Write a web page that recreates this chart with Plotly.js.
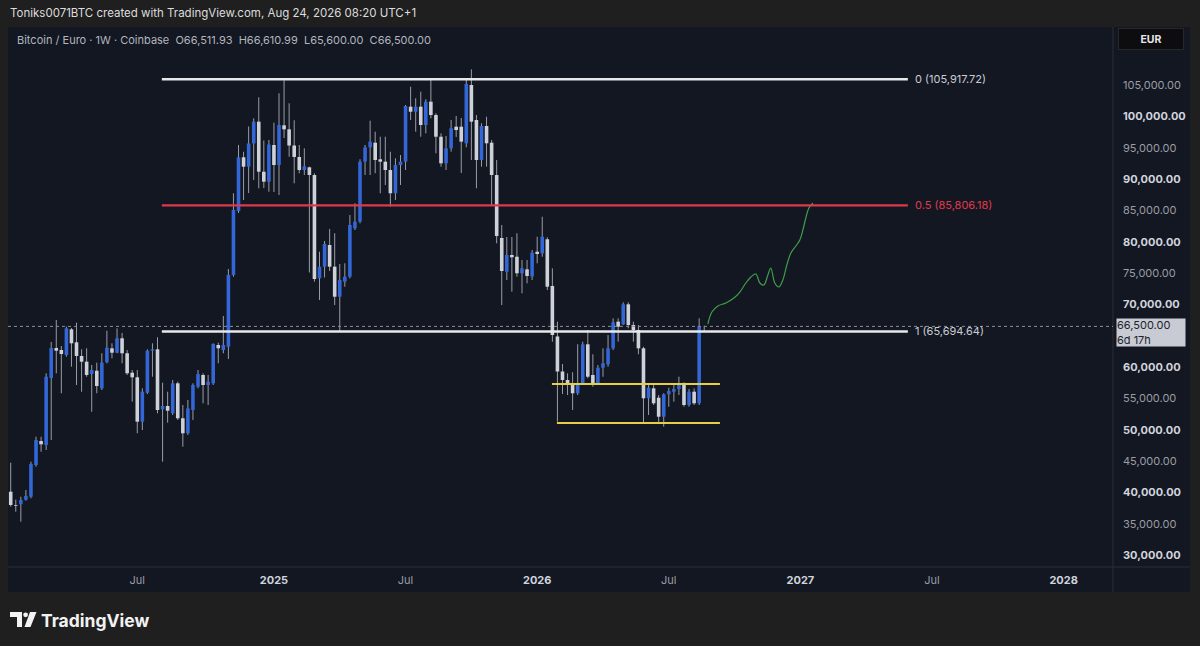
<!DOCTYPE html>
<html>
<head>
<meta charset="utf-8">
<script src="https://cdn.plot.ly/plotly-3.0.1.min.js"></script>
<style>html,body{margin:0;padding:0;background:#1e1e1e;}#chart{width:1200px;height:646px;}</style>
</head>
<body>
<div id="chart"></div>
<script>
// ---------------- DATA ----------------
const symbolTitle = "Bitcoin / Euro · 1W · Coinbase";
const creditText = "Toniks0071BTC created with TradingView.com, Aug 24, 2026 08:20 UTC+1";
const firstWeek = "2024-01-08"; // weekly bars, one per Monday
const open = [40130,38010,38120,38850,39330,44390,48220,47580,58270,63050,62730,61930,66030,63960,61780,60870,58900,59430,56620,60770,
63000,62300,64600,62210,59110,58380,51300,55920,62620,62840,53270,53800,52640,57420,51840,49450,53160,56880,58750,57150,
57420,63530,62730,63260,74700,84900,93470,91970,95670,99150,91170,89580,95430,92240,98570,97930,95350,93520,91440,91870,
90640,74170,76020,79480,76020,71230,73630,74420,82140,83200,92770,95060,95800,93150,92770,91440,87730,92240,92770,101540,
100740,101540,98620,102340,100210,96750,92510,94900,98350,98350,95700,105000,99420,93040,98460,95800,90640,80600,75220,77890,
77610,74970,75600,74460,78410,78160,80390,72940,64890,59300,57950,57260,55830,57260,63640,58750,57260,59910,60450,63000,
67250,66830,70020,66720,65920,63000,55030,56620,55120,52090,55670,56080,56510,57260,53960,56080,54230,66511.93];
const high = [44760,38860,39330,40400,44920,48900,48900,59020,64010,67520,63370,66450,66240,67090,62840,63000,60340,60710,62210,65810,
63800,66190,65440,62730,59540,59540,56620,62840,63800,64760,57520,56080,57950,57680,53960,54760,57420,59540,59020,58750,
63800,63900,68160,75650,87730,95430,94360,98380,99690,103040,96150,96230,98990,103680,105750,102080,99370,95430,94900,91970,
90920,78410,80120,82030,81350,76450,76560,84260,86130,93150,95430,99310,97550,96750,96750,94360,93310,93830,101810,104730,
102880,103930,102720,105800,100490,97300,96870,99420,100060,99740,106070,107500,100210,98890,99940,96230,93040,82670,80760,80760,
81350,77090,77090,78680,80800,83990,80710,75760,67250,60500,59020,59180,63640,64060,65920,62050,60340,63000,65120,67790,
67790,70340,70340,67250,66720,63260,57420,57420,55550,55830,56720,57420,58470,57580,56510,56620,67790,66610.99];
const low = [37740,36940,35350,38700,39080,44120,46510,46780,48380,59020,55830,61660,60070,57150,56080,58470,52890,55830,56350,60610,
61410,62210,60610,58750,54490,49450,49970,55710,58470,52640,44920,51140,52360,51570,47310,49180,51570,56620,54230,53960,
57150,60610,62210,61300,74420,84580,86660,87770,89850,88520,88570,87980,87930,87450,96550,93560,89320,90920,90640,75090,
73630,70710,74300,75330,69910,65760,72830,74170,81870,82940,90640,90640,90920,87730,89050,85590,86660,89050,91440,99420,
97550,96750,97300,99690,94110,91970,91440,94360,96710,90960,95060,93040,88520,91970,91970,85860,79750,69910,73900,72030,
74420,71780,73370,73900,76560,77610,72300,64060,51300,55710,55550,53160,55550,57150,58220,56880,57150,58470,60070,62730,
64060,66720,66190,64060,62050,51040,52360,53960,51040,50500,53690,54490,55550,53690,53690,53960,53960,65600];
const close = [38010,37900,38810,39450,44550,48380,47690,58470,63050,62620,62090,66190,63800,61780,60870,58750,59540,56990,60710,63100,
62300,64600,62210,59020,58380,51300,56080,62620,62840,53160,53800,53050,57420,51840,49450,53430,57150,58900,57150,57680,
63690,63000,63530,74700,85060,93470,91970,95670,99150,91170,89580,95510,92240,98620,97930,95350,93520,91440,92030,90640,
74060,76020,79640,76020,71230,73900,74420,82670,83200,92770,95060,95960,93040,92770,91440,87730,92240,92770,101650,100740,
101540,98620,102340,100210,96750,92510,94900,98090,97820,95960,105160,99150,93040,98460,95700,90640,80920,75330,77890,77520,
74970,75760,74540,78250,78040,80800,72830,65120,59300,57950,57260,55830,57420,63640,58470,57260,59910,60610,63000,67150,
66450,70020,66720,65920,63000,55030,56720,54230,52090,55670,56190,56510,57150,53960,56080,54230,66510,66500];

// Fibonacci retracement drawn on the chart
const fibRatios = [0, 0.5, 1];
const fibPrices = [105917.72, 85806.18, 65694.64];
// Yellow range lines
const rangeLevels = [57310, 51090];
// Hand-drawn green projection path
const projDates = ["2026-08-29","2026-09-03 14:00","2026-09-11 22:00","2026-09-22 22:00","2026-10-04","2026-10-12 07:00","2026-10-20 14:00","2026-10-27 12:00","2026-11-03 10:00","2026-11-08 22:00","2026-11-14 10:00","2026-11-20","2026-11-24 02:00","2026-11-29 14:00","2026-12-05 05:00","2026-12-10 17:00","2026-12-16 05:00","2026-12-21 19:00","2026-12-28 17:00","2027-01-03 05:00","2027-01-07 10:00","2027-01-11 12:00","2027-01-15 17:00","2027-01-21 05:00"];
const projPrices = [66880,68790,69750,70230,71030,71980,73420,74380,74860,73420,73100,74700,75810,73420,72780,73900,76290,78200,79320,80280,81870,83790,85380,86180];
// Axis ticks (65,000 is hidden behind the last-price label, as in the original)
const xTickDates = ["2024-07-01","2025-01-06","2025-07-07","2026-01-05","2026-07-06","2027-01-04","2027-07-05","2028-01-03"];
const xTickLabels = ["Jul","2025","Jul","2026","Jul","2027","Jul","2028"];
const yTickValues = [30000,35000,40000,45000,50000,55000,60000,70000,75000,80000,85000,90000,95000,100000,105000];
const countdown = "6d 17h";
const currency = "EUR";

// ---------------- BUILD ----------------
const FONT = "Inter, 'Noto Sans', sans-serif";
const UP = "#3366d6", DOWN = "#cfd1d8", WICK = "#9a9da6";
const n = open.length;
const dates = [];
{
  const t0 = Date.parse(firstWeek + "T00:00:00Z");
  for (let i = 0; i < n; i++) dates.push(new Date(t0 + i * 7 * 86400000).toISOString().slice(0, 10));
}
const fmt = v => v.toLocaleString("en-US", {minimumFractionDigits: 2, maximumFractionDigits: 2});

const wx = [], wy = [], ux = [], uy = [], dx = [], dy = [];
for (let i = 0; i < n; i++) {
  wx.push(dates[i], dates[i], null); wy.push(high[i], low[i], null);
  if (close[i] >= open[i]) { ux.push(dates[i], dates[i], null); uy.push(open[i], close[i], null); }
  else { dx.push(dates[i], dates[i], null); dy.push(open[i], close[i], null); }
}

// pixel helpers for layout decorations (plot area: x 8..1113, y 28..567)
const L = 8, R = 1113, T = 28, B = 567;
const X = px => (px - L) / (R - L);
const Y = py => (B - py) / (B - T);

const traces = [
  {type: "scatter", mode: "lines", x: wx, y: wy, line: {color: WICK, width: 1}, hoverinfo: "skip"},
  {type: "scatter", mode: "lines", x: dx, y: dy, line: {color: DOWN, width: 3.6}, hoverinfo: "skip"},
  {type: "scatter", mode: "lines", x: ux, y: uy, line: {color: UP, width: 3.6}, hoverinfo: "skip"},
  {type: "scatter", mode: "lines", x: projDates, y: projPrices, line: {color: "#3f9e4a", width: 1.2, shape: "spline", smoothing: 1}, hoverinfo: "skip"}
];

const fibColors = ["#e8e8ea", "#e0394a", "#e8e8ea"];
const fibLabelColors = ["#c9ccd3", "#e0394a", "#c9ccd3"];
const shapes = [];
const annotations = [];

// outer frame
const FR = "#1f1f1f";
shapes.push({type: "rect", xref: "paper", yref: "paper", x0: X(0), x1: X(1200), y0: Y(27), y1: Y(0), fillcolor: FR, line: {width: 0}, layer: "below"});
shapes.push({type: "rect", xref: "paper", yref: "paper", x0: X(0), x1: X(1200), y0: Y(646), y1: Y(592), fillcolor: FR, line: {width: 0}, layer: "below"});
shapes.push({type: "rect", xref: "paper", yref: "paper", x0: X(0), x1: X(8), y0: Y(646), y1: Y(0), fillcolor: FR, line: {width: 0}, layer: "below"});
shapes.push({type: "rect", xref: "paper", yref: "paper", x0: X(1190), x1: X(1200), y0: Y(646), y1: Y(0), fillcolor: FR, line: {width: 0}, layer: "below"});
// separators
shapes.push({type: "line", xref: "paper", yref: "paper", x0: 1, x1: 1, y0: Y(592), y1: Y(27), line: {color: "#2a2e39", width: 1}});
shapes.push({type: "line", xref: "paper", yref: "paper", x0: 0, x1: X(1190), y0: 0, y1: 0, line: {color: "#2a2e39", width: 1}});

// last price dotted line
shapes.push({type: "line", xref: "paper", yref: "y", x0: 0, x1: 1, y0: close[n - 1], y1: close[n - 1], line: {color: "#8c8f98", width: 1, dash: "dot"}});

// fib lines
fibPrices.forEach((p, k) => {
  shapes.push({type: "line", xref: "x", yref: "y", x0: "2024-08-04", x1: "2027-06-01 14:00", y0: p, y1: p, line: {color: fibColors[k], width: 2.4}});
  annotations.push({xref: "paper", yref: "y", x: X(913), y: p, xanchor: "left", yanchor: "middle", showarrow: false,
    text: fibRatios[k] + " (" + fmt(p) + ")", font: {family: FONT, size: 11, color: fibLabelColors[k]}});
});
// yellow range lines
shapes.push({type: "line", xref: "x", yref: "y", x0: "2026-01-25 10:00", x1: "2026-09-14 17:00", y0: rangeLevels[0], y1: rangeLevels[0], line: {color: "#e6cf45", width: 2}});
shapes.push({type: "line", xref: "x", yref: "y", x0: "2026-02-01 07:00", x1: "2026-09-14 17:00", y0: rangeLevels[1], y1: rangeLevels[1], line: {color: "#e6cf45", width: 2}});

// header texts
annotations.push({xref: "paper", yref: "paper", x: X(8), y: Y(13), xanchor: "left", yanchor: "middle", showarrow: false,
  text: creditText, font: {family: FONT, size: 11.5, color: "#dcdcdc"}});
annotations.push({xref: "paper", yref: "paper", x: X(15), y: Y(40), xanchor: "left", yanchor: "middle", showarrow: false,
  text: symbolTitle + "  O" + fmt(open[n - 1]) + "  H" + fmt(high[n - 1]) + "  L" + fmt(low[n - 1]) + "  C" + fmt(close[n - 1]),
  font: {family: FONT, size: 11, color: "#b2b5be"}});
// currency box
annotations.push({xref: "paper", yref: "paper", x: X(1151), y: Y(39), xanchor: "center", yanchor: "middle", showarrow: false,
  text: "<b>" + currency + "</b>", font: {family: FONT, size: 10.5, color: "#e6e6e6"}, bgcolor: "#0d0d10", bordercolor: "#26282e",
  borderwidth: 1, width: 62, height: 18});
// last price box
annotations.push({xref: "paper", yref: "paper", x: X(1116), y: Y(332), xanchor: "left", yanchor: "middle", showarrow: false,
  text: fmt(close[n - 1]) + "<br>" + countdown, align: "left", font: {family: FONT, size: 11, color: "#20232b"},
  bgcolor: "#c8cbd3", width: 68, height: 27, borderpad: 0});

// TradingView logo
annotations.push({xref: "paper", yref: "paper", x: X(39), y: Y(620), xanchor: "left", yanchor: "middle", showarrow: false,
  text: "<b>TradingView</b>", font: {family: "Inter, sans-serif", size: 17.5, color: "#f2f2f2"}});
const P = pts => "M " + pts.map(p => X(p[0]) + "," + Y(p[1])).join(" L ") + " Z";
shapes.push({type: "path", xref: "paper", yref: "paper", path: P([[10, 612], [22, 612], [22, 627], [17, 627], [17, 617], [10, 617]]), fillcolor: "#f2f2f2", line: {width: 0}});
shapes.push({type: "circle", xref: "paper", yref: "paper", x0: X(23.2), x1: X(28), y0: Y(617.2), y1: Y(612.4), fillcolor: "#f2f2f2", line: {width: 0}});
shapes.push({type: "path", xref: "paper", yref: "paper", path: P([[30, 612], [36.5, 612], [30.5, 627], [24.5, 627]]), fillcolor: "#f2f2f2", line: {width: 0}});

const xticktext = xTickLabels.map(t => /^\d{4}$/.test(t) ? "<b>" + t + "</b>" : "<span style='color:#9a9da6'>" + t + "</span>");
const yticktext = yTickValues.map(v => v % 10000 === 0 ? "<b>" + fmt(v) + "</b>" : "<span style='color:#9a9da6'>" + fmt(v) + "</span>");

const layout = {
  width: 1200, height: 646,
  margin: {l: L, r: 1200 - R, t: T, b: 646 - B, pad: 0},
  paper_bgcolor: "#131722", plot_bgcolor: "#131722",
  showlegend: false, hovermode: false,
  font: {family: FONT},
  xaxis: {type: "date", range: ["2024-01-04 06:00", "2028-03-11 06:00"], tickmode: "array", tickvals: xTickDates, ticktext: xticktext,
    tickfont: {size: 11, color: "#d1d4dc", family: FONT}, showgrid: false, zeroline: false, showline: false, ticks: "",
    ticklabelstandoff: 5, fixedrange: true},
  yaxis: {side: "right", range: [28121, 114091], tickmode: "array", tickvals: yTickValues, ticktext: yticktext,
    tickfont: {size: 11, color: "#d1d4dc", family: FONT}, showgrid: false, zeroline: false, showline: false, ticks: "",
    ticklabelstandoff: 9, fixedrange: true},
  shapes: shapes,
  annotations: annotations
};

Plotly.newPlot("chart", traces, layout, {staticPlot: true, displayModeBar: false});
</script>
</body>
</html>
